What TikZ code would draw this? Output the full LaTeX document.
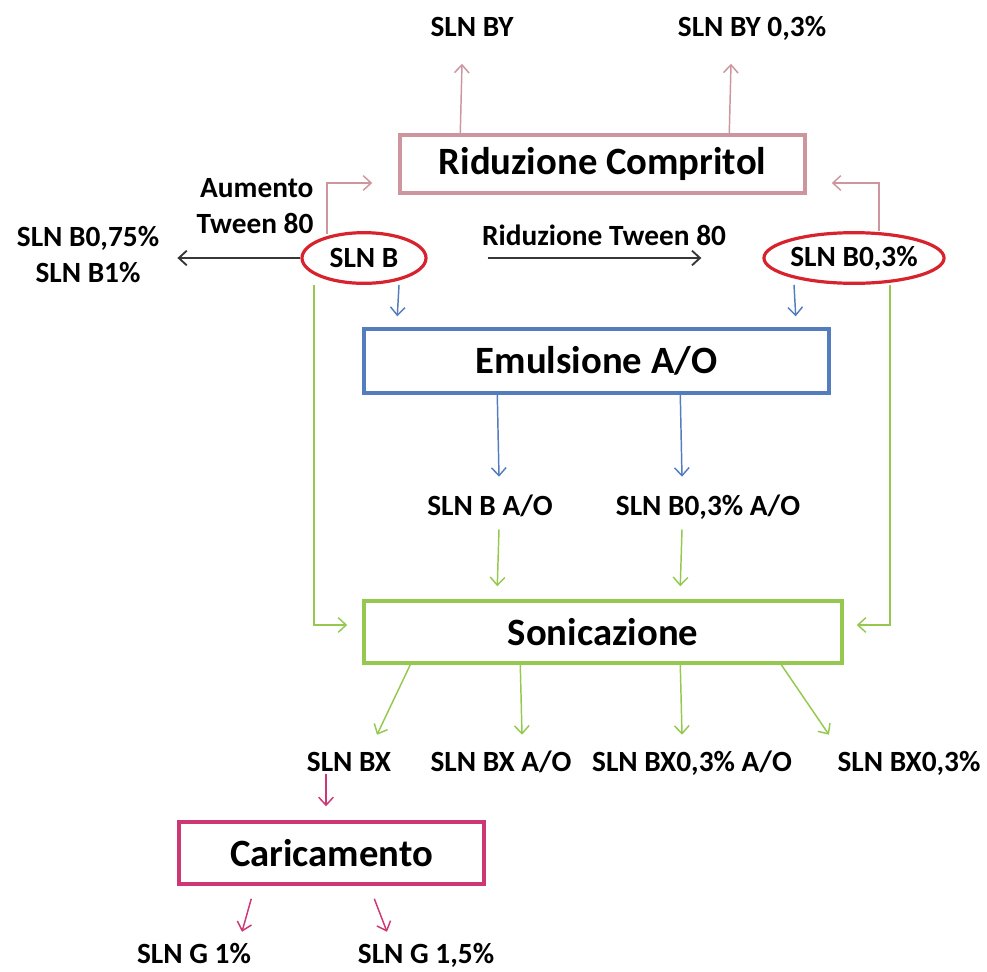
\documentclass[tikz,border=0pt]{standalone}
\usepackage{fontspec}
\setmainfont{Carlito}
\usepackage{tikz}
\usetikzlibrary{shapes.geometric, arrows.meta, positioning, calc}
\definecolor{myrose}{RGB}{205,150,158}
\definecolor{myblue}{RGB}{84,125,190}
\definecolor{mygreen}{RGB}{150,200,80}
\definecolor{mymagenta}{RGB}{205,55,115}
\definecolor{myred}{RGB}{215,35,45}
\definecolor{mydark}{RGB}{55,55,55}
\tikzset{
  box/.style={rectangle, draw, fill=white, line width=2.6pt, inner sep=0pt,
    font=\fontsize{29}{33}\selectfont\bfseries},
  lbl/.style={inner sep=0pt, text height=16pt, text depth=3.5pt,
    font=\fontsize{22}{27}\selectfont\bfseries},
  lbltwo/.style={inner sep=0pt, font=\fontsize{22}{27}\selectfont\bfseries},
  oval/.style={ellipse, draw=myred, line width=2.4pt, inner sep=0pt,
    minimum height=38pt, font=\fontsize{22}{27}\selectfont\bfseries},
  rosearrow/.style={-{Straight Barb[length=6pt,width=11pt]}, line width=1.1pt, color=myrose},
  bluearrow/.style={-{Straight Barb[length=6pt,width=11pt]}, line width=1.1pt, color=myblue},
  greenarrow/.style={-{Straight Barb[length=6pt,width=11pt]}, line width=1.1pt, color=mygreen},
  magarrow/.style={-{Straight Barb[length=6pt,width=11pt]}, line width=1.1pt, color=mymagenta},
  darkarrow/.style={-{Straight Barb[length=6pt,width=11pt]}, line width=1.4pt, color=mydark}
}

\begin{document}
\begin{tikzpicture}[x=0.75pt, y=-0.75pt]
  \useasboundingbox (0,0) rectangle (987,971);
  % boxes
  \node[box, draw=myrose, minimum width=405*0.75pt, minimum height=58*0.75pt] (rc) at (602.5,164) {Riduzione Compritol};
  \node[box, draw=myblue, minimum width=465*0.75pt, minimum height=64*0.75pt] (emu) at (596.5,361) {Emulsione A/O};
  \node[box, draw=mygreen, minimum width=478*0.75pt, minimum height=62*0.75pt] (son) at (603,632) {Sonicazione};
  \node[box, draw=mymagenta, minimum width=305*0.75pt, minimum height=62*0.75pt] (car) at (331.5,853) {Caricamento};
  % ellipses
  \node[oval, minimum width=93pt] (slnb) at (364,258) {SLN B};
  \node[oval, minimum width=130.5pt] (b03) at (854,258) {SLN B0,3\%};
  % labels
  \node[lbl] (by) at (472,28) {SLN BY};
  \node[lbl] (by3) at (752,28) {SLN BY 0,3\%};
  \node[lbltwo, align=right] (aum) at (255,206) {Aumento\\Tween 80};
  \node[lbltwo, align=center] (b75) at (88,255) {SLN B0,75\%\\SLN B1\%};
  \node[lbl] (rt) at (604,237) {Riduzione Tween 80};
  \node[lbl] (bao) at (490,507) {SLN B A/O};
  \node[lbl] (b03ao) at (708,507) {SLN B0,3\% A/O};
  \node[lbl] (bx) at (349,763) {SLN BX};
  \node[lbl] (bxao) at (501,763) {SLN BX A/O};
  \node[lbl] (bx03ao) at (692,763) {SLN BX0,3\% A/O};
  \node[lbl] (bx03) at (909,763) {SLN BX0,3\%};
  \node[lbl] (g1) at (194,955) {SLN G 1\%};
  \node[lbl] (g15) at (426,955) {SLN G 1,5\%};
  % riduzione compritol
  \draw[rosearrow] ($(rc.north west)+(62,0)$) -- ($(by.south)+(-10,22.5)$);
  \draw[rosearrow] ($(rc.north west)+(331,0)$) -- ($(by3.south)+(-21,22.5)$);
  \draw[rosearrow] ($(slnb.north)+(-37,3)$) |- ($(rc.west)+(-26,19)$);
  \draw[rosearrow] ($(b03.north)+(25,0)$) |- ($(rc.east)+(25,19)$);
  % tween
  \draw[darkarrow] (slnb.west) -- ($(slnb.west)+(-123,0)$);
  \draw[darkarrow] ($(slnb.east)+(60,0)$) -- ($(b03.west)+(-61,0)$);
  % emulsione
  \draw[bluearrow] ($(slnb.south)+(35,0)$) -- ($(emu.north west)+(35,-11)$);
  \draw[bluearrow] ($(b03.south)+(-60,0)$) -- ($(emu.north east)+(-35,-11)$);
  \draw[bluearrow] ($(emu.south west)+(135,0)$) -- ($(bao.north)+(9,-17)$);
  \draw[bluearrow] ($(emu.south west)+(318,0)$) -- ($(b03ao.north)+(-26,-17)$);
  % sonicazione
  \draw[greenarrow] ($(bao.south)+(9,9)$) -- ($(son.north west)+(135,-13)$);
  \draw[greenarrow] ($(b03ao.south)+(-26,9)$) -- ($(son.north west)+(318,-13)$);
  \draw[greenarrow] ($(slnb.south)+(-50,0)$) |- ($(son.west)+(-15,-7)$);
  \draw[greenarrow] ($(b03.south)+(36,0)$) |- ($(son.east)+(13,-7)$);
  \draw[greenarrow] ($(son.south west)+(48,0)$) -- ($(bx.north)+(28,-15)$);
  \draw[greenarrow] ($(son.south west)+(158,0)$) -- ($(bxao.north)+(21,-15)$);
  \draw[greenarrow] ($(son.south west)+(318,0)$) -- ($(bx03ao.north)+(-10,-15)$);
  \draw[greenarrow] ($(son.south west)+(419,0)$) -- ($(bx03.north)+(-80,-15)$);
  % caricamento
  \draw[magarrow] ($(bx.south)+(-23,-2)$) -- ($(car.north)+(-5.5,-14)$);
  \draw[magarrow] ($(car.south west)+(74,13)$) -- ($(g1.north)+(48,-10)$);
  \draw[magarrow] ($(car.south west)+(197,13)$) -- ($(g15.north)+(-39,-10)$);
\end{tikzpicture}
\end{document}
